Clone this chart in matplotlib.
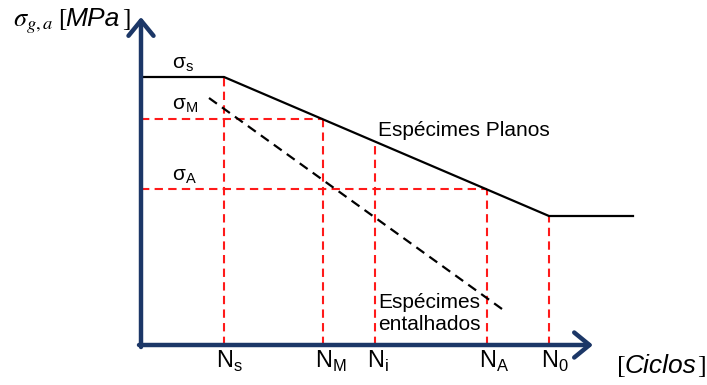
import numpy as np
import matplotlib
matplotlib.use('Agg')
import matplotlib.pyplot as plt

# fonts: Arial-like for labels, Times-like for brackets / sigma
matplotlib.rcParams['font.family'] = 'Liberation Sans'
matplotlib.rcParams['mathtext.fontset'] = 'custom'
matplotlib.rcParams['mathtext.rm'] = 'Liberation Sans'
matplotlib.rcParams['lines.scale_dashes'] = False

# schematic S-N data (units ~ pixels from origin)
n_values = [83, 182, 234, 346, 408]
n_labels = ['N$_\\mathregular{s}$', 'N$_\\mathregular{M}$', 'N$_\\mathregular{i}$',
            'N$_\\mathregular{A}$', 'N$_\\mathregular{0}$']
plano_x = [0, 83, 408, 492]
plano_y = [268, 268, 129, 129]
entalhado_x = [68, 361]
entalhado_y = [247, 36]
sigma_levels = ['σ$_\\mathregular{s}$', 'σ$_\\mathregular{M}$', 'σ$_\\mathregular{A}$']
sigma_label_y = [280, 239, 168]
sigma_n = [182, 346]   # N where sigma_M and sigma_A hit the plain curve

navy = '#1c3767'
red = '#ff1a1a'

fig = plt.figure(figsize=(7.07, 3.85), dpi=100)
ax = fig.add_axes([0, 0, 1, 1])
ax.set_xlim(-141, 566)
ax.set_ylim(-40, 345)
ax.axis('off')

# red dashed guides
for n in n_values:
    top = np.interp(n, plano_x, plano_y)
    ax.plot([n, n], [0, top], color=red, lw=1.5, dashes=[6, 3.8], zorder=2)
for n in sigma_n:
    s = np.interp(n, plano_x, plano_y)
    ax.plot([0, n], [s, s], color=red, lw=1.5, dashes=[6, 3.8], zorder=2)

# curves
ax.plot(plano_x, plano_y, color='black', lw=1.6, zorder=3)
ax.plot(entalhado_x, entalhado_y, color='black', lw=1.6, dashes=[7, 4.5], zorder=3)

# axes with arrows
arrow = dict(arrowstyle='->, head_length=0.55, head_width=0.45', lw=3.2, color=navy,
             shrinkA=0, shrinkB=0, mutation_scale=20)
ax.annotate('', xy=(0, 328), xytext=(0, -2), arrowprops=arrow, zorder=5)
ax.annotate('', xy=(452, 0), xytext=(-2, 0), arrowprops=arrow, zorder=5)

# labels
for lab, y in zip(sigma_levels, sigma_label_y):
    ax.text(31, y, lab, fontsize=15, va='center', ha='left')
for lab, n in zip(n_labels, n_values):
    ax.text(n - 8, -23, lab, fontsize=17, va='baseline', ha='left')

ax.text(237, 214, 'Espécimes Planos', fontsize=15, va='center', ha='left')
ax.text(237, 52, 'Espécimes\nentalhados', fontsize=15, va='top', ha='left', linespacing=1.2)

# y axis title
ax.text(-128, 319, r'$\sigma_{g,a}$', fontsize=19, math_fontfamily='stix', va='baseline')
ax.text(-83, 319, '[', fontsize=18, family='Liberation Serif', va='baseline')
ax.text(-76, 319, 'MPa', fontsize=19, style='italic', va='baseline')
ax.text(-19, 319, ']', fontsize=18, family='Liberation Serif', va='baseline')

# x axis title
ax.text(476, -28, '[', fontsize=19, family='Liberation Serif', va='baseline')
ax.text(484, -28, 'Ciclos', fontsize=19, style='italic', va='baseline')
ax.text(556, -28, ']', fontsize=19, family='Liberation Serif', va='baseline')

fig.savefig('out.png', dpi=100)
